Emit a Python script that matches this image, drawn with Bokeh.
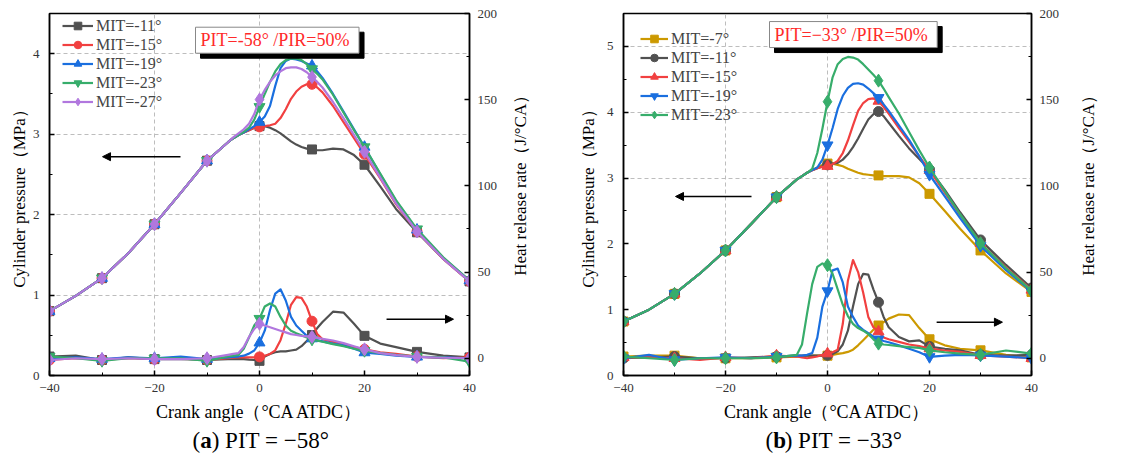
import math
from bokeh.plotting import figure
from bokeh.models import (Range1d, LinearAxis, Label, FixedTicker, Legend, LegendItem,
                          Arrow, NormalHead)
from bokeh.layouts import row, column
from bokeh.core.properties import value
from bokeh.embed import file_html
from bokeh.resources import INLINE

FONT = "Liberation Serif"

# Crank angle grid (°CA ATDC), shared by all curves
ANG = [-40, -35, -30, -25, -20, -15, -10, -6, -5, -4, -3, -2, -1, 0, 1, 2, 3, 4, 5, 6, 7, 8, 9,
       10, 11, 12, 14, 16, 18, 20, 23, 26, 30, 35, 40]

# ---------------- (a) PIT = -58° ----------------
names_a = ["MIT=-11°", "MIT=-15°", "MIT=-19°", "MIT=-23°", "MIT=-27°"]
# cylinder pressure (MPa)
pa_11 = [0.80, 0.99, 1.21, 1.52, 1.88, 2.27, 2.67, 2.90, 2.95, 2.99, 3.02, 3.05, 3.08,
         3.10, 3.10, 3.08, 3.05, 3.01, 2.96, 2.91, 2.87, 2.84, 2.82, 2.81, 2.80, 2.80,
         2.82, 2.81, 2.74, 2.62, 2.35, 2.07, 1.78, 1.45, 1.17]
pa_15 = [0.80, 0.99, 1.21, 1.52, 1.88, 2.27, 2.67, 2.90, 2.95, 2.99, 3.02, 3.05, 3.08,
         3.09, 3.10, 3.11, 3.13, 3.20, 3.31, 3.44, 3.53, 3.59, 3.62, 3.62, 3.58, 3.52,
         3.35, 3.15, 2.95, 2.75, 2.45, 2.13, 1.79, 1.45, 1.17]
pa_19 = [0.80, 0.99, 1.21, 1.52, 1.88, 2.27, 2.67, 2.90, 2.95, 2.99, 3.02, 3.06, 3.10,
         3.15, 3.22, 3.35, 3.60, 3.82, 3.91, 3.94, 3.93, 3.91, 3.88, 3.85, 3.78, 3.70,
         3.50, 3.28, 3.06, 2.84, 2.50, 2.17, 1.81, 1.46, 1.18]
pa_23 = [0.80, 0.99, 1.21, 1.52, 1.88, 2.27, 2.67, 2.90, 2.95, 2.99, 3.03, 3.08, 3.18,
         3.34, 3.50, 3.65, 3.78, 3.87, 3.92, 3.94, 3.94, 3.92, 3.87, 3.81, 3.75, 3.68,
         3.49, 3.27, 3.05, 2.84, 2.51, 2.18, 1.82, 1.47, 1.18]
pa_27 = [0.80, 0.99, 1.21, 1.52, 1.88, 2.27, 2.67, 2.90, 2.96, 3.01, 3.06, 3.13, 3.25,
         3.43, 3.55, 3.65, 3.73, 3.78, 3.82, 3.83, 3.83, 3.81, 3.77, 3.71, 3.65, 3.58,
         3.40, 3.20, 2.99, 2.78, 2.46, 2.14, 1.79, 1.45, 1.17]
# heat release rate (J/°CA)
ha_11 = [1, 1.5, -1, 0.5, -0.5, -0.5, -1, -0.5, -0.5, -0.5, -0.5, -0.8, -1,
         -1.5, 1, 2.5, 3.5, 4, 4, 4.5, 5, 7, 10, 13.5, 17.5, 21,
         27, 26.5, 20, 13, 8.5, 6.5, 3.7, 1.5, 0.5]
ha_15 = [-1, 0, -1, 0, -0.5, 0.5, -1, 0, 0.3, 0.5, 0.5, 0.5, 0.5,
         0.8, 1.5, 2.5, 4.6, 10.5, 20, 31, 35.5, 35, 30, 21.5, 14, 11,
         9.5, 8, 6.5, 5.2, 3.5, 2.5, 1, 0, 0.5]
ha_19 = [0, 0.5, -0.5, 0.5, 0, 1, -0.5, 0.5, 0.8, 1, 1.5, 2.7, 4.5,
         9, 16, 28, 37.5, 40, 33.5, 24, 19, 16, 13, 11.4, 10.5, 9.8,
         8.5, 7.5, 5.5, 3.3, 2.5, 1.5, 0.8, 0.5, 0]
ha_23 = [1, 0, -1.5, 0, 0, 0, -1.5, 1, 1.5, 2, 5.5, 12, 19,
         23, 30, 31.8, 30, 24, 19, 16, 14.5, 13.4, 12, 10.9, 10.2, 9.6,
         8.2, 7, 5.5, 4.3, 3, 2, 1, 0.5, -2]
ha_27 = [-1, 0, -0.5, 0, -0.5, -0.5, 0, 2, 2.5, 3, 6.5, 12.4, 17,
         20, 19, 18, 17, 16, 15, 14, 13.5, 13, 12.7, 12.4, 11.8, 11.3,
         10.3, 8.8, 7, 5.2, 3, 1.8, 0.8, 0.3, 0]

# ---------------- (b) PIT = -33° ----------------
names_b = ["MIT=-7°", "MIT=-11°", "MIT=-15°", "MIT=-19°", "MIT=-23°"]
pb_7 = [0.82, 1.00, 1.24, 1.55, 1.90, 2.30, 2.71, 2.98, 3.03, 3.08, 3.12, 3.16, 3.20,
        3.22, 3.22, 3.20, 3.18, 3.14, 3.11, 3.08, 3.06, 3.05, 3.04, 3.04, 3.03, 3.03,
        3.03, 3.01, 2.92, 2.76, 2.50, 2.23, 1.90, 1.55, 1.27]
pb_11 = [0.82, 1.00, 1.24, 1.55, 1.90, 2.30, 2.71, 2.98, 3.03, 3.08, 3.12, 3.15, 3.18,
         3.20, 3.22, 3.23, 3.28, 3.36, 3.47, 3.60, 3.75, 3.89, 3.97, 4.01, 3.94, 3.84,
         3.64, 3.45, 3.29, 3.13, 2.82, 2.48, 2.06, 1.68, 1.33]
pb_15 = [0.82, 1.00, 1.24, 1.55, 1.90, 2.30, 2.71, 2.98, 3.03, 3.08, 3.12, 3.15, 3.17,
         3.18, 3.21, 3.26, 3.38, 3.57, 3.80, 4.02, 4.14, 4.20, 4.21, 4.17, 4.08, 3.98,
         3.76, 3.55, 3.33, 3.12, 2.78, 2.44, 2.01, 1.64, 1.30]
pb_19 = [0.82, 1.00, 1.24, 1.55, 1.90, 2.30, 2.71, 2.98, 3.03, 3.08, 3.12, 3.16, 3.28,
         3.50, 3.76, 4.05, 4.25, 4.37, 4.43, 4.44, 4.42, 4.36, 4.29, 4.22, 4.12, 4.02,
         3.80, 3.58, 3.33, 3.05, 2.72, 2.39, 1.97, 1.60, 1.28]
pb_23 = [0.82, 1.00, 1.24, 1.55, 1.90, 2.30, 2.71, 2.98, 3.03, 3.08, 3.14, 3.38, 3.75,
         4.16, 4.53, 4.73, 4.81, 4.84, 4.83, 4.80, 4.73, 4.65, 4.57, 4.48, 4.36, 4.23,
         3.98, 3.70, 3.42, 3.16, 2.80, 2.45, 2.01, 1.63, 1.29]
hb_7 = [1, 1.5, 1.5, 0, 0, 0, 0.5, 1, 1.2, 1.5, 1.5, 1.5, 1.5,
        1.5, 2, 2.5, 3, 3.7, 5, 7.5, 10.5, 13.5, 16.5, 19, 21, 23,
        25.4, 25, 17.5, 11, 7.5, 5.5, 4.6, 2, 0.5]
hb_11 = [0, 0.5, 1, 0, 0, 0.5, 1, 1.5, 1.5, 1.5, 1.5, 1.5, 1.5,
         1.7, 2.5, 4, 8, 16, 30, 43, 49, 48.5, 40, 32.5, 24, 18,
         12.3, 9.8, 10.4, 6.8, 5.5, 4.6, 2, 1.5, 2]
hb_15 = [0.5, 0.5, 0, -1, 0.5, 0, 1.5, 1, 0.5, 0, 0.5, 1, 2,
         2.7, 3.5, 5, 20, 45, 57, 50, 38, 24, 18, 15.5, 12, 11,
         9.5, 8, 7, 5.6, 4.5, 3.7, 1.7, 1, 0]
hb_19 = [0, 2, -1, 0, 0.5, 0, 1, 1.5, 1.5, 2, 3, 12, 30,
         39, 51, 52, 44, 30, 24, 19, 16.5, 14.5, 12.5, 11, 10, 9.3,
         7.5, 5.5, 3.5, 0.8, 1.5, 2, 1.7, 1, 0]
hb_23 = [1, 0, -1, 0, 0, 0, 0.5, 2, 8, 26, 43, 53, 55,
         54, 49, 40, 31, 24.5, 20, 17.5, 16, 14, 11, 8.5, 8, 7.7,
         7, 6.5, 6, 4.6, 3.5, 2.7, 2, 4.5, 2.7]

GRAY, RED, BLUE, GREEN, PURPLE, GOLD = "#515151", "#F14040", "#1A6FDF", "#37AD6B", "#B177DE", "#CC9900"
MSIZE = {"square": 9, "circle": 10, "triangle": 11, "inverted_triangle": 11, "diamond": 13}


def panel(P, H, names, colors, markers, ymax, ymajor, yminor, ygrid, lb, frame_w, rb,
          leg_xy, glyph_w, box_text, box_x, box_y, arrows, ylab_standoff):
    p = figure(width=lb + frame_w + rb, height=425,
               x_range=Range1d(-40, 40), y_range=Range1d(0, ymax),
               output_backend="svg", toolbar_location=None,
               min_border_left=lb, min_border_right=rb, min_border_top=13, min_border_bottom=50,
               x_axis_label="Crank angle（°CA ATDC）", y_axis_label="Cylinder pressure（MPa）")
    p.outline_line_color = "black"
    p.outline_line_width = 1.5
    p.extra_y_ranges = {"hrr": Range1d(-10, 200)}
    rax = LinearAxis(y_range_name="hrr",
                     ticker=FixedTicker(ticks=[0, 50, 100, 150, 200], minor_ticks=[25, 75, 125, 175]))
    p.add_layout(rax, "right")

    p.xaxis.ticker = FixedTicker(ticks=[-40, -20, 0, 20, 40], minor_ticks=[-30, -10, 10, 30])
    p.xaxis.major_label_overrides = {-40: "−40", -20: "−20", 0: "0", 20: "20", 40: "40"}
    p.yaxis[0].ticker = FixedTicker(ticks=ymajor, minor_ticks=yminor)
    for ax in [p.xaxis[0], p.yaxis[0], rax]:
        ax.axis_line_color = "black"
        ax.axis_line_width = 1.5
        ax.major_tick_in = 5
        ax.major_tick_out = 0
        ax.minor_tick_in = 3
        ax.minor_tick_out = 0
        ax.major_tick_line_width = 1.5
        ax.major_tick_line_color = "black"
        ax.minor_tick_line_color = "black"
        ax.major_label_text_font = FONT
        ax.major_label_text_font_size = "13px"
        ax.major_label_text_color = "#333333"
        ax.axis_label_text_font = FONT
        ax.axis_label_text_font_size = "17px"
        ax.axis_label_text_font_style = "normal"
        ax.axis_label_text_color = "black"
    p.xaxis.axis_label_text_font_size = "18px"
    p.xaxis.major_label_standoff = 8
    p.xaxis.axis_label_standoff = 7
    p.yaxis[0].major_label_standoff = 10
    p.yaxis[0].axis_label_standoff = ylab_standoff
    rax.major_label_standoff = 8

    p.xgrid.ticker = FixedTicker(ticks=[-20, 0])
    p.ygrid.ticker = FixedTicker(ticks=ygrid)
    for g in [p.xgrid[0], p.ygrid[0]]:
        g.grid_line_color = "#bdbdbd"
        g.grid_line_dash = "4 3"
        g.grid_line_width = 1

    mk_idx = [i for i, a in enumerate(ANG) if a % 10 == 0]
    mx = [ANG[i] for i in mk_idx]
    items = []
    for yp, yh, name, c, m in zip(P, H, names, colors, markers):
        s = MSIZE[m]
        lp = p.line(ANG, yp, line_color=c, line_width=2.2, line_join="round")
        sp = p.scatter(mx, [yp[i] for i in mk_idx], marker=m, size=s, fill_color=c, line_color=c)
        p.line(ANG, yh, line_color=c, line_width=2.2, line_join="round", y_range_name="hrr")
        p.scatter(mx, [yh[i] for i in mk_idx], marker=m, size=s, fill_color=c, line_color=c,
                  y_range_name="hrr")
        items.append(LegendItem(label=name, renderers=[lp, sp]))

    leg = Legend(items=items, location=leg_xy, padding=0, margin=0, spacing=0,
                 glyph_width=glyph_w, glyph_height=19, label_height=19, label_standoff=3,
                 label_text_font=FONT, label_text_font_size="16px",
                 border_line_alpha=0, background_fill_alpha=0)
    p.add_layout(leg)

    # boxed annotation with shadow
    p.add_layout(Label(x=box_x, y=box_y, text=box_text, text_font=FONT, text_font_size="18px",
                       text_color="black", text_align="left", text_baseline="middle",
                       x_offset=10, y_offset=-5, padding=(5, 3),
                       background_fill_color="black", border_line_color="black"))
    p.add_layout(Label(x=box_x, y=box_y, text=box_text, text_font=FONT, text_font_size="18px",
                       text_color="#FF2A2A", text_align="left", text_baseline="middle",
                       x_offset=5, padding=(5, 3),
                       background_fill_color="white", border_line_color="#888888"))

    for (xs, xe, ya) in arrows:
        p.add_layout(Arrow(end=NormalHead(size=8, fill_color="black", line_color="black"),
                           x_start=xs, y_start=ya, x_end=xe, y_end=ya,
                           line_color="black", line_width=1.5))
    return p


def side_title(width, xc, yc):
    """Narrow strip carrying the right-axis title, reading bottom-to-top."""
    s = figure(width=width, height=425, x_range=Range1d(0, width), y_range=Range1d(0, 425),
               output_backend="svg", toolbar_location=None, min_border=0,
               x_axis_type=None, y_axis_type=None)
    s.grid.visible = False
    s.outline_line_color = None
    s.text(x=[xc], y=[yc], text=["Heat release rate（J/°CA）"], angle=math.pi / 2,
           text_font=value(FONT), text_font_size="17px", text_align="center",
           text_baseline="middle", text_color="black")
    return s


def caption(letter, rest, x0):
    c = figure(width=568, height=41, x_range=Range1d(0, 568), y_range=Range1d(0, 41),
               output_backend="svg", toolbar_location=None, min_border=0,
               x_axis_type=None, y_axis_type=None)
    c.grid.visible = False
    c.outline_line_color = None
    common = dict(text_font=value(FONT), text_font_size="23px", text_align="left",
                  text_baseline="middle", text_color="black")
    c.text(x=[x0], y=[26], text=["("], **common)
    c.text(x=[x0 + 7.7], y=[26], text=[letter], text_font_style="bold", **common)
    c.text(x=[x0 + 19.2], y=[26], text=[rest], **common)
    return c


pa = panel([pa_11, pa_15, pa_19, pa_23, pa_27], [ha_11, ha_15, ha_19, ha_23, ha_27], names_a,
           [GRAY, RED, BLUE, GREEN, PURPLE],
           ["square", "circle", "triangle", "inverted_triangle", "diamond"],
           4.5, [0, 1, 2, 3, 4], [0.5, 1.5, 2.5, 3.5], [1, 2, 3, 4], 49, 420, 31,
           (13, 264), 31, "PIT=-58°  /PIR=50%", -13.14, 4.168,
           [(-15.05, -29.9, 2.72), (24.2, 36.95, 0.70)], 1)

pb = panel([pb_7, pb_11, pb_15, pb_19, pb_23], [hb_7, hb_11, hb_15, hb_19, hb_23], names_b,
           [GOLD, GRAY, RED, BLUE, GREEN],
           ["square", "circle", "triangle", "inverted_triangle", "diamond"],
           5.5, [0, 1, 2, 3, 4, 5], [0.5, 1.5, 2.5, 3.5, 4.5], [3, 4, 5], 55, 408, 37,
           (17, 251), 28, "PIT=−33°  /PIR=50%", -12.35, 5.18,
           [(-14.9, -29.8, 2.72), (21.4, 34.3, 0.81)], 6)

sa = side_title(68, 20, 228)   # strip spans 500..568 px
sb = side_title(68, 20, 228)   # strip spans 1068..1136 px

ca = caption("a", ") PIT = −58°", 192)
cb = caption("b", ") PIT = −33°", 197)

layout = column(row(pa, sa, pb, sb), row(ca, cb))
open("out.html", "w").write(file_html(layout, INLINE))
